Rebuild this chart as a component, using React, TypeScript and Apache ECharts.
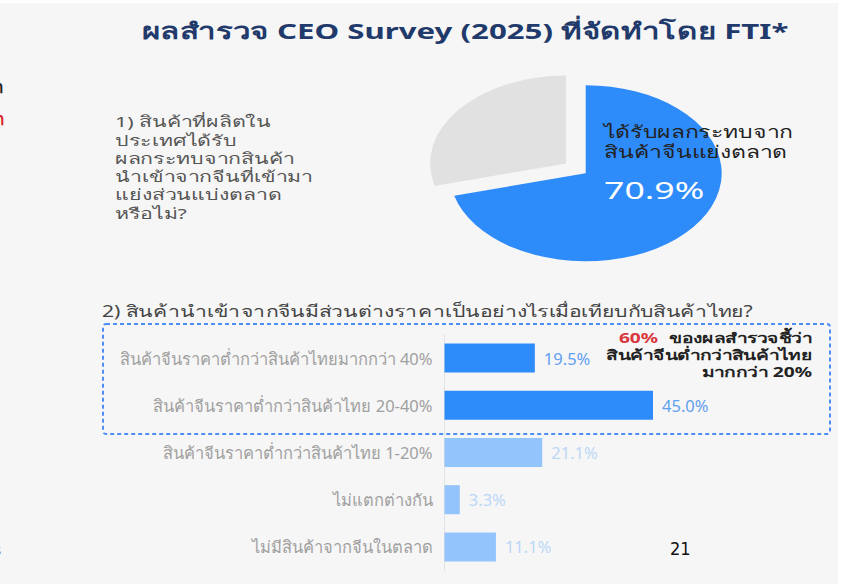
import React, { useEffect, useRef } from "react";
import * as echarts from "echarts";

// ---------- data ----------
const titleText = "ผลสำรวจ CEO Survey (2025) ที่จัดทำโดย FTI*";
const q1Lines = [
  "1) สินค้าที่ผลิตใน",
  "ประเทศได้รับ",
  "ผลกระทบจากสินค้า",
  "นำเข้าจากจีนที่เข้ามา",
  "แย่งส่วนแบ่งตลาด",
  "หรือไม่?",
];
const pieNames = ["ได้รับผลกระทบจาก\nสินค้าจีนแย่งตลาด", "ไม่ได้รับผลกระทบ"];
const pieValues = [70.9, 29.1];

const q2Title = "2) สินค้านำเข้าจากจีนมีส่วนต่างราคาเป็นอย่างไรเมื่อเทียบกับสินค้าไทย?";
const barCategories = [
  "สินค้าจีนราคาต่ำกว่าสินค้าไทยมากกว่า 40%",
  "สินค้าจีนราคาต่ำกว่าสินค้าไทย 20-40%",
  "สินค้าจีนราคาต่ำกว่าสินค้าไทย 1-20%",
  "ไม่แตกต่างกัน",
  "ไม่มีสินค้าจากจีนในตลาด",
];
const barValues = [19.5, 45.0, 21.1, 3.3, 11.1];
const highlightCount = 2;

const calloutHighlight = "60%";
const calloutLines = ["ของผลสำรวจชี้ว่า", "สินค้าจีนต่ำกว่าสินค้าไทย", "มากกว่า 20%"];
const pageNumber = "21";

// ---------- styles ----------
const FONT = "'Noto Sans', 'DejaVu Sans', sans-serif";
const BLUE = "#2e8bfa";
const LIGHT_BLUE = "#94c4fc";
const PIE_COLORS = [BLUE, "#e1e1e1"];

export default function App() {
  const ref = useRef<HTMLDivElement>(null);

  useEffect(() => {
    if (!ref.current) return;
    const chart = echarts.init(ref.current, undefined, { renderer: "svg" });
    const total = pieValues.reduce((a, b) => a + b, 0);

    const option: any = {
      animation: false,
      backgroundColor: "#ffffff",
      textStyle: { fontFamily: FONT },
      graphic: [
        { type: "rect", z: -10, shape: { x: 0, y: 3, width: 838, height: 581 }, style: { fill: "#f6f6f6" } },
        // cut-off fragments from the neighbouring slide
        { type: "text", x: -7, y: 78, style: { text: "ก", fill: "#222", font: `bold 17px ${FONT}` } },
        { type: "text", x: -6, y: 110, style: { text: "ก", fill: "#d8242c", font: `bold 17px ${FONT}` } },
        { type: "text", x: -6, y: 541, style: { text: "s", fill: "#777", font: `15px ${FONT}` } },
        {
          type: "text", x: 465, y: 30, scaleX: 1.42,
          style: { text: titleText, fill: "#1f3a6b", font: `bold 22px ${FONT}`, align: "center", verticalAlign: "middle" },
        },
        {
          type: "text", x: 115, y: 112, scaleX: 1.42,
          style: { text: q1Lines.join("\n"), fill: "#555", font: `15px ${FONT}`, lineHeight: 18.3, verticalAlign: "top" },
        },
        {
          type: "text", x: 102, y: 311, scaleX: 1.32,
          style: { text: q2Title, fill: "#444", font: `16px ${FONT}`, verticalAlign: "middle" },
        },
        {
          type: "rect",
          shape: { x: 103, y: 324, width: 727, height: 110, r: 3 },
          style: { fill: "none", stroke: "#4f8ef7", lineWidth: 2, lineDash: [4, 3] },
        },
        {
          type: "text", x: 812, y: 329.5, scaleX: 1.37,
          style: {
            text: `{r|${calloutHighlight}} {b|${calloutLines[0]}}\n{b|${calloutLines[1]}}\n{b|${calloutLines[2]}}`,
            align: "right", verticalAlign: "top", lineHeight: 17,
            rich: {
              r: { fill: "#d9363e", font: `bold 14px ${FONT}`, lineHeight: 17 },
              b: { fill: "#222", font: `bold 14px ${FONT}`, lineHeight: 17 },
            },
          },
        },
        {
          type: "text", x: 670, y: 548,
          style: { text: pageNumber, fill: "#111", font: `18px 'Liberation Sans Narrow', 'DejaVu Sans Condensed', sans-serif`, verticalAlign: "middle" },
        },
      ],
      grid: { left: 444.5, top: 334.5, width: 278, height: 236, containLabel: false },
      xAxis: { type: "value", min: 0, max: 60, show: false },
      yAxis: {
        type: "category",
        data: barCategories,
        inverse: true,
        axisLine: { show: true, lineStyle: { color: "#e3e3e3", width: 1 } },
        axisTick: { show: false },
        axisLabel: { color: "#a0a0a0", fontSize: 16.5, margin: 12, fontFamily: FONT },
      },
      series: [
        {
          type: "bar",
          barWidth: 29,
          data: barValues.map((v, i) => ({
            value: v,
            itemStyle: { color: i < highlightCount ? BLUE : LIGHT_BLUE },
            label: { color: i < highlightCount ? "#62a0f0" : "#bcd7f8" },
          })),
          label: {
            show: true,
            position: "right",
            distance: 9,
            fontSize: 16.5,
            fontFamily: FONT,
            formatter: (p: any) => Number(p.value).toFixed(1) + "%",
          },
        },
        {
          type: "custom",
          coordinateSystem: "none",
          data: pieValues.map((v) => [v]),
          renderItem: (params: any, api: any) => {
            const i = params.dataIndex;
            let before = 0;
            for (let k = 0; k < i; k++) before += pieValues[k];
            const v = api.value(0);
            const start = -Math.PI / 2 + (before / total) * Math.PI * 2;
            const end = start + (v / total) * Math.PI * 2;
            const mid = (start + end) / 2;
            const off = i === 1 ? 16 : 0;
            const children: any[] = [
              {
                type: "group",
                x: 585.7, y: 173.3, scaleX: 1.545, scaleY: 1,
                children: [
                  {
                    type: "sector",
                    shape: { cx: off * Math.cos(mid), cy: off * Math.sin(mid), r: 88, r0: 0, startAngle: start, endAngle: end, clockwise: true },
                    style: { fill: PIE_COLORS[i] },
                  },
                ],
              },
            ];
            if (i === 0) {
              children.push({
                type: "text", x: 604, y: 141.7, scaleX: 1.35,
                style: { text: pieNames[0], fill: "#222", font: `17px ${FONT}`, lineHeight: 20, verticalAlign: "middle" },
              });
              children.push({
                type: "text", x: 604, y: 190, scaleX: 1.55,
                style: { text: v.toFixed(1) + "%", fill: "#ffffff", font: `23px ${FONT}`, verticalAlign: "middle" },
              });
            }
            return { type: "group", children };
          },
        },
      ],
    };
    chart.setOption(option);
    return () => chart.dispose();
  }, []);

  return (
    <div
      ref={ref}
      style={{ position: "fixed", left: 0, top: 0, width: 851, height: 584 }}
    />
  );
}
